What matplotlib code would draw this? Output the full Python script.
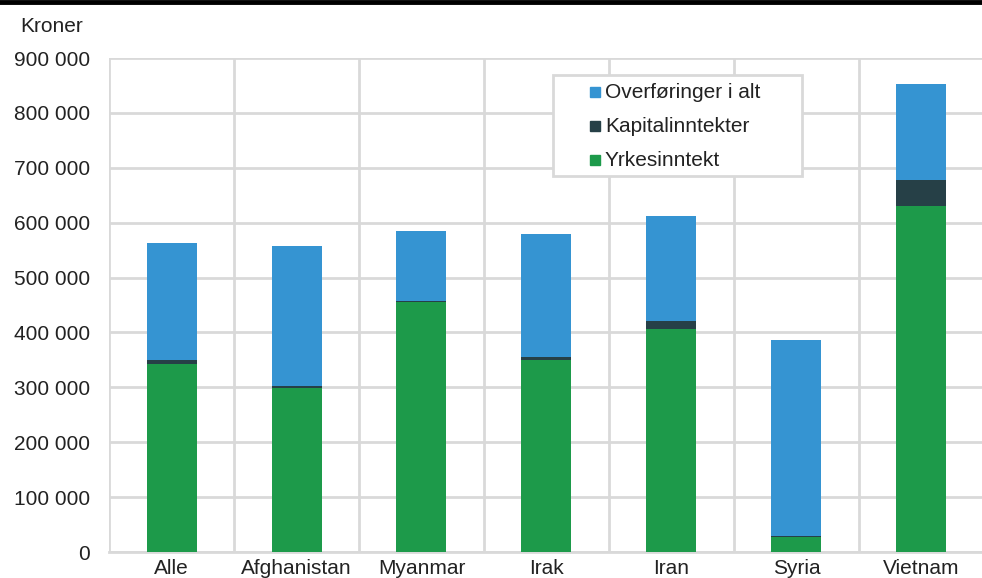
import numpy as np
import matplotlib.pyplot as plt
from matplotlib.lines import Line2D
from matplotlib.patches import Rectangle

# Data (kroner)
categories = ['Alle', 'Afghanistan', 'Myanmar', 'Irak', 'Iran', 'Syria', 'Vietnam']
yrkesinntekt = [342000, 299000, 455000, 349000, 406000, 28000, 630000]
kapitalinntekter = [8000, 3000, 2000, 7000, 14000, 1000, 48000]
overforinger = [213000, 255000, 128000, 223000, 192000, 357000, 174000]
series_names = ['Overføringer i alt', 'Kapitalinntekter', 'Yrkesinntekt']

c_green = '#1d9a4a'
c_dark = '#264047'
c_blue = '#3594d2'
c_grid = '#d9d9d9'
c_text = '#222222'
fs = 15

plt.rcParams['font.family'] = ['Liberation Sans', 'DejaVu Sans']

W, H = 982, 578
fig = plt.figure(figsize=(W / 100, H / 100), dpi=100)
ax = fig.add_axes([109 / W, 1 - 552 / H, (984 - 109) / W, (552 - 58) / H])


def fx(px):
    return px / W


def fy(py):
    return 1 - py / H


x = np.arange(len(categories))
w = 0.4
y1 = np.array(yrkesinntekt)
y2 = np.array(kapitalinntekter)
y3 = np.array(overforinger)
ax.bar(x, y1, w, color=c_green, zorder=3)
ax.bar(x, y2, w, bottom=y1, color=c_dark, zorder=3)
ax.bar(x, y3, w, bottom=y1 + y2, color=c_blue, zorder=3)

ax.set_xlim(-0.5, len(categories) - 0.5)
ax.set_ylim(0, 900000)
ax.set_yticks(np.arange(0, 900001, 100000))
ax.set_yticklabels([f'{v:,}'.replace(',', ' ') for v in range(0, 900001, 100000)])
ax.set_xticks(x)
ax.set_xticklabels(categories)

# grid: horizontal lines and vertical separators between categories
ax.grid(axis='y', color=c_grid, linewidth=2, zorder=0)
for b in np.arange(-0.5, len(categories), 1):
    ax.axvline(b, color=c_grid, linewidth=2, zorder=0)
for s in ['top', 'right', 'left']:
    ax.spines[s].set_visible(False)
ax.spines['bottom'].set_color(c_grid)
ax.spines['bottom'].set_linewidth(2)

ax.tick_params(axis='both', length=0, labelsize=fs, labelcolor=c_text)
ax.tick_params(axis='y', pad=13.5)
ax.tick_params(axis='x', pad=5)

fig.text(fx(20), fy(27), 'Kroner', fontsize=fs, color=c_text, va='center')

# thick rule across the top
fig.add_artist(Line2D([0, 1], [fy(2), fy(2)], color='black', linewidth=3.5))

# legend box drawn by hand to match the original padding
fig.add_artist(Rectangle((fx(553), fy(176)), fx(802) - fx(553), fy(75) - fy(176),
                         transform=fig.transFigure, facecolor='white',
                         edgecolor=c_grid, linewidth=2, zorder=5))
for name, col, ypx in zip(series_names, [c_blue, c_dark, c_green], [92, 126, 160]):
    fig.add_artist(Line2D([fx(595)], [fy(ypx)], marker='s', markersize=7.5,
                          color=col, linestyle='', zorder=6))
    fig.text(fx(605), fy(ypx), name, fontsize=fs, color=c_text,
             va='center', ha='left', zorder=6)

fig.savefig('out.png', dpi=100)
